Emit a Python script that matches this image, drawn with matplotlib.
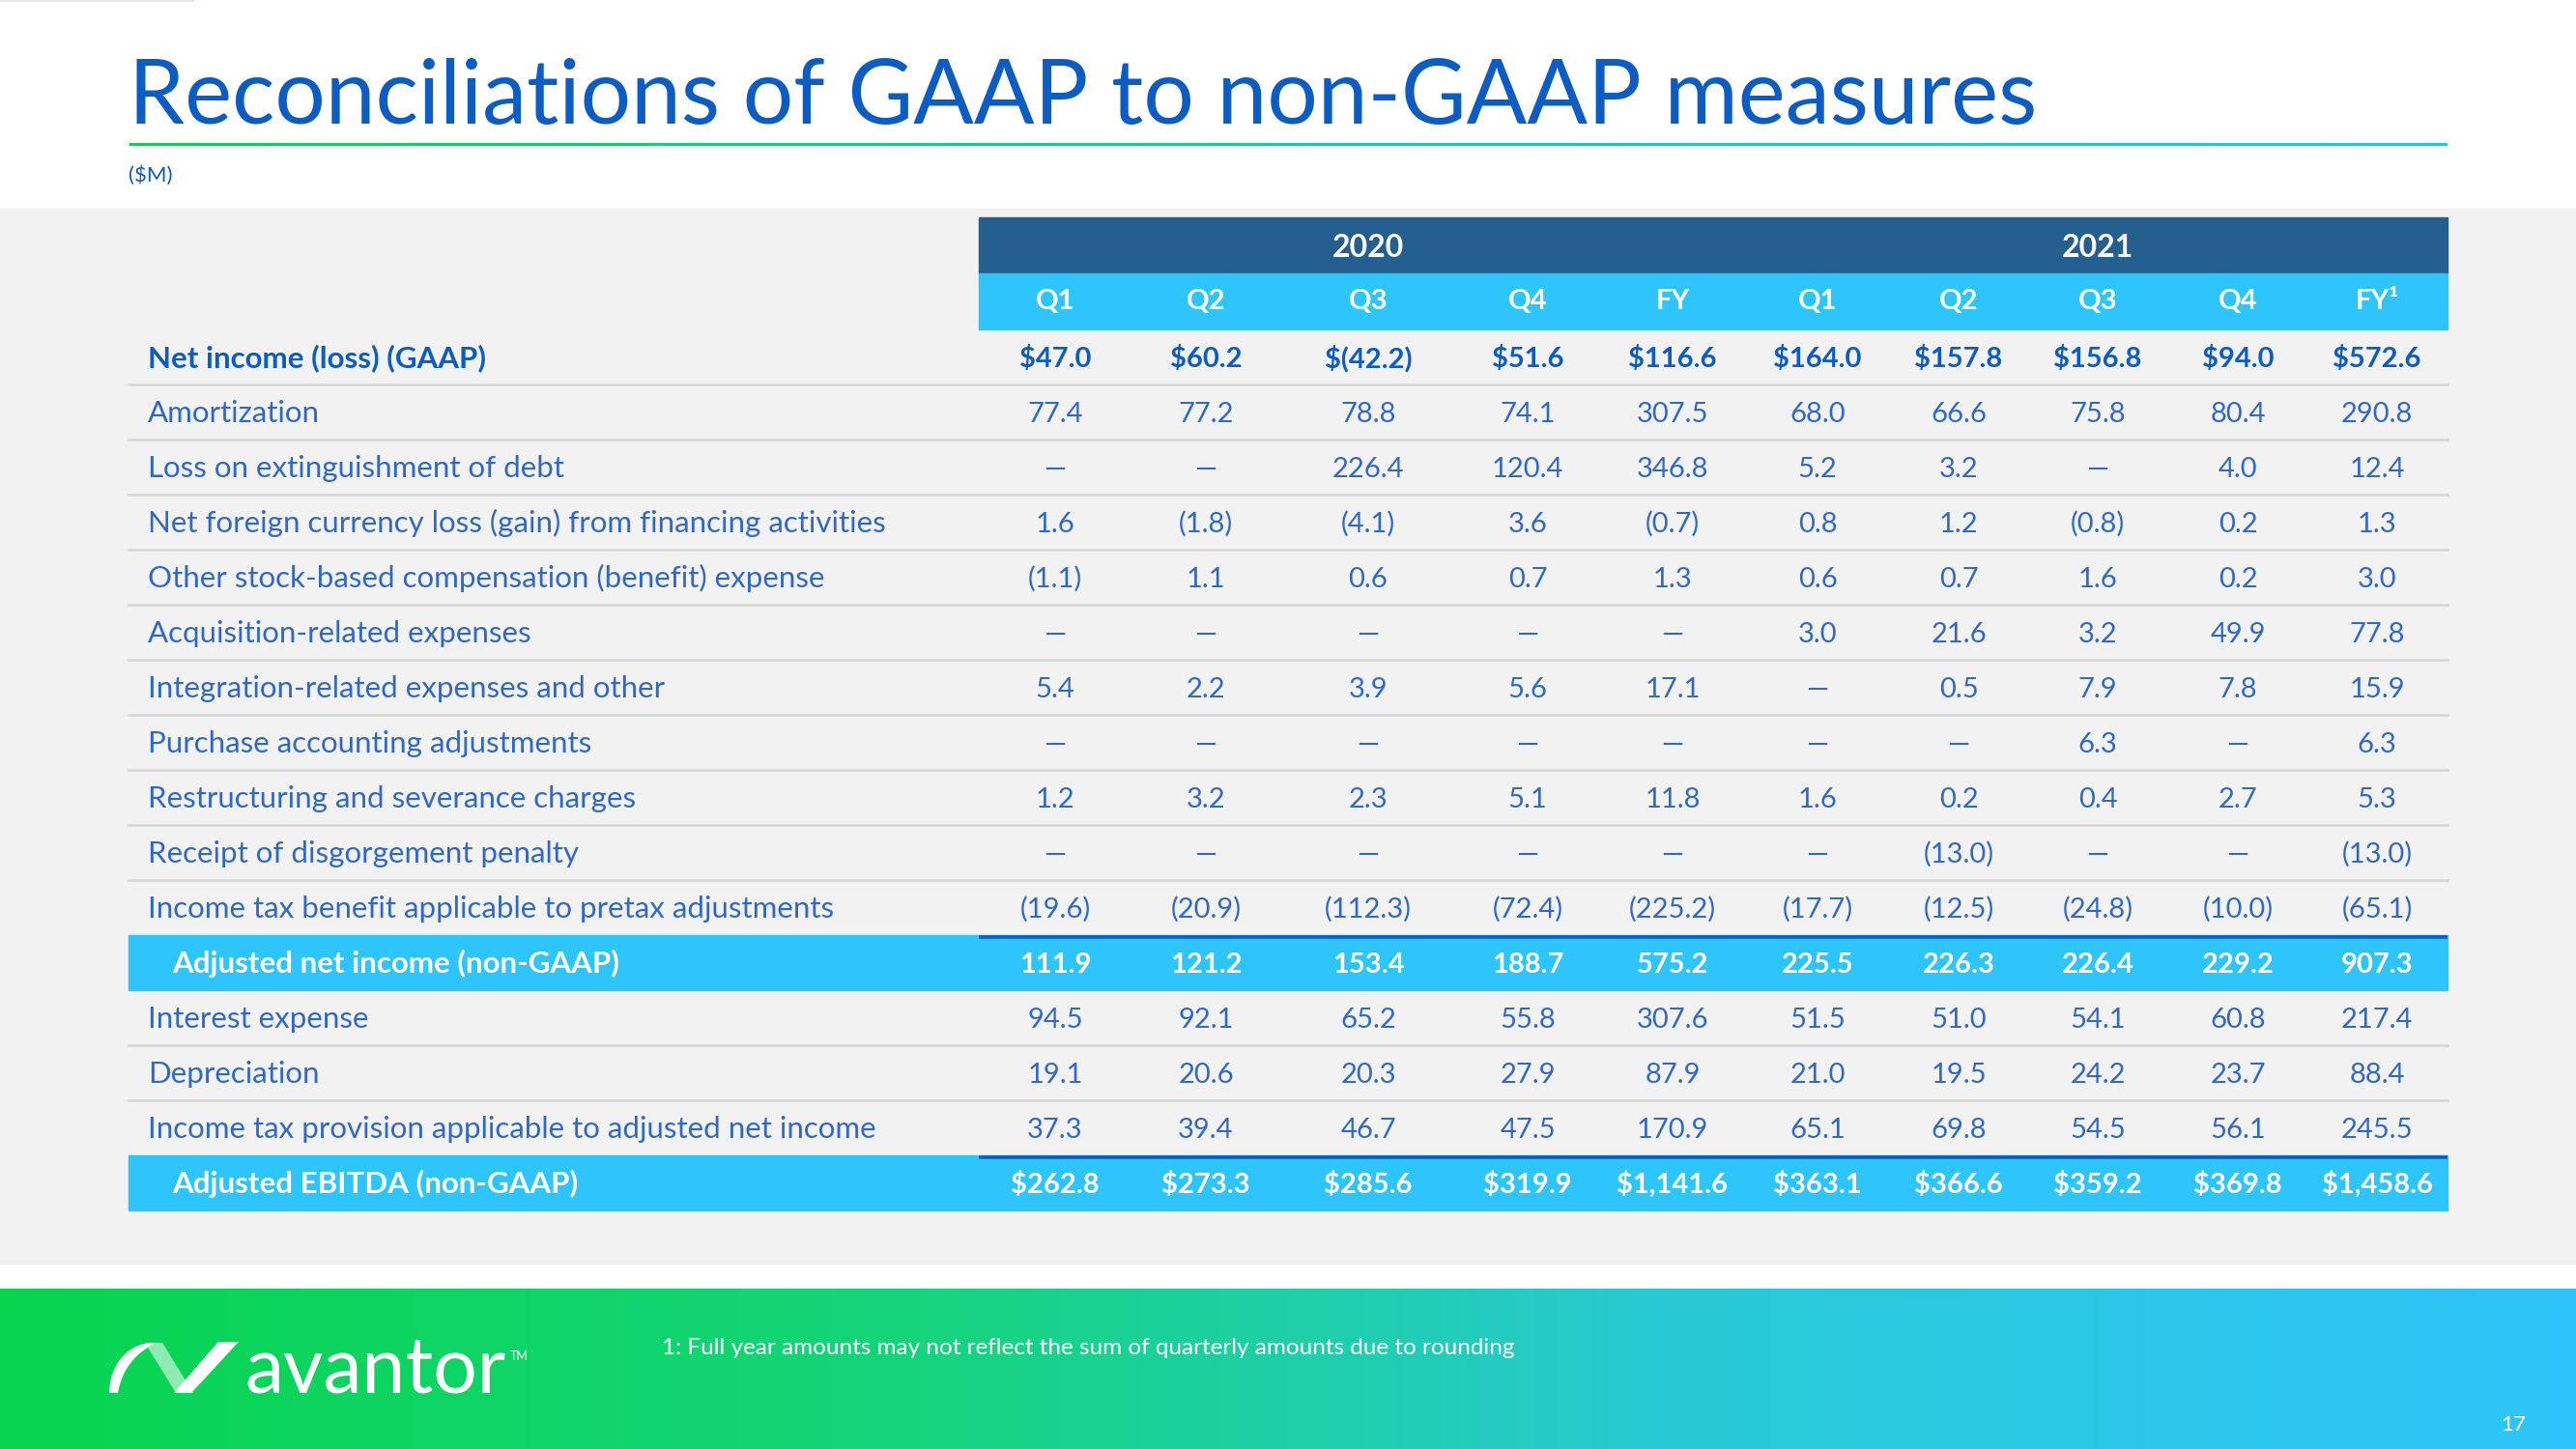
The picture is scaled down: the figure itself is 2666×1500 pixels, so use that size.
import numpy as np
import matplotlib
matplotlib.use("Agg")
import matplotlib.pyplot as plt
from matplotlib.patches import Rectangle, Polygon, PathPatch
from matplotlib.path import Path

# ---- data ------------------------------------------------------------
years = ["2020", "2021"]
columns = ["Q1", "Q2", "Q3", "Q4", "FY", "Q1", "Q2", "Q3", "Q4", "FY\u00b9"]

row_labels = [
    "Net income (loss) (GAAP)",
    "Amortization",
    "Loss on extinguishment of debt",
    "Net foreign currency loss (gain) from financing activities",
    "Other stock-based compensation (benefit) expense",
    "Acquisition-related expenses",
    "Integration-related expenses and other",
    "Purchase accounting adjustments",
    "Restructuring and severance charges",
    "Receipt of disgorgement penalty",
    "Income tax benefit applicable to pretax adjustments",
    "Adjusted net income (non-GAAP)",
    "Interest expense",
    "Depreciation",
    "Income tax provision applicable to adjusted net income",
    "Adjusted EBITDA (non-GAAP)",
]

net_income = [47.0, 60.2, -42.2, 51.6, 116.6, 164.0, 157.8, 156.8, 94.0, 572.6]
amortization = [77.4, 77.2, 78.8, 74.1, 307.5, 68.0, 66.6, 75.8, 80.4, 290.8]
loss_debt = [None, None, 226.4, 120.4, 346.8, 5.2, 3.2, None, 4.0, 12.4]
fx_loss = [1.6, -1.8, -4.1, 3.6, -0.7, 0.8, 1.2, -0.8, 0.2, 1.3]
stock_comp = [-1.1, 1.1, 0.6, 0.7, 1.3, 0.6, 0.7, 1.6, 0.2, 3.0]
acquisition = [None, None, None, None, None, 3.0, 21.6, 3.2, 49.9, 77.8]
integration = [5.4, 2.2, 3.9, 5.6, 17.1, None, 0.5, 7.9, 7.8, 15.9]
purchase_acct = [None, None, None, None, None, None, None, 6.3, None, 6.3]
restructuring = [1.2, 3.2, 2.3, 5.1, 11.8, 1.6, 0.2, 0.4, 2.7, 5.3]
disgorgement = [None, None, None, None, None, None, -13.0, None, None, -13.0]
tax_benefit = [-19.6, -20.9, -112.3, -72.4, -225.2, -17.7, -12.5, -24.8, -10.0, -65.1]
adj_net_income = [111.9, 121.2, 153.4, 188.7, 575.2, 225.5, 226.3, 226.4, 229.2, 907.3]
interest = [94.5, 92.1, 65.2, 55.8, 307.6, 51.5, 51.0, 54.1, 60.8, 217.4]
depreciation = [19.1, 20.6, 20.3, 27.9, 87.9, 21.0, 19.5, 24.2, 23.7, 88.4]
tax_provision = [37.3, 39.4, 46.7, 47.5, 170.9, 65.1, 69.8, 54.5, 56.1, 245.5]
adj_ebitda = [262.8, 273.3, 285.6, 319.9, 1141.6, 363.1, 366.6, 359.2, 369.8, 1458.6]

rows = [net_income, amortization, loss_debt, fx_loss, stock_comp, acquisition,
        integration, purchase_acct, restructuring, disgorgement, tax_benefit,
        adj_net_income, interest, depreciation, tax_provision, adj_ebitda]

dollar_rows = {0, 15}
bold_rows = {0}
highlight_rows = {11, 15}

# ---- style -----------------------------------------------------------
FONT = ["Lato", "DejaVu Sans"]
BLUE = "#0b5cc3"
TEXT_BLUE = "#3068c6"
DARK_BAND = "#245f8f"
CYAN = "#2ec5fc"
GRAY_BG = "#f2f2f2"
SEP = "#d6d6d6"

W, H = 2666, 1500
col_x = [1092, 1248, 1416, 1581, 1731, 1881, 2027, 2171, 2316, 2460]
table_left, table_right, num_left = 133, 2533, 1013
row_top0, row_h = 341, 57
label_fs, num_fs = 22.5, 21


def fmt(v, dollar=False):
    if v is None:
        return "\u2014"
    s = f"{abs(v):,.1f}"
    if v < 0:
        s = f"({s})"
    if dollar:
        s = "$" + s
    return s


fig = plt.figure(figsize=(W / 100, H / 100), dpi=100)
ax = fig.add_axes([0, 0, 1, 1])
ax.set_xlim(0, W)
ax.set_ylim(H, 0)
ax.axis("off")

# backgrounds
ax.add_patch(Rectangle((0, 0), W, H, color="white", zorder=0))
ax.add_patch(Rectangle((0, 216), W, 1308 - 216, color=GRAY_BG, zorder=0))
ax.plot([0, 200], [1, 1], color="#e6e6e6", lw=1.5, zorder=1)

# footer gradient
stops = np.array([0.0, 0.35, 0.65, 1.0])
cols = np.array([[8, 212, 78], [20, 213, 122], [40, 202, 212], [46, 196, 250]]) / 255
xs = np.linspace(0, 1, 600)
grad = np.stack([np.interp(xs, stops, cols[:, i]) for i in range(3)], axis=-1)[None, :, :]
ax.imshow(grad, extent=[0, W, 1500, 1334], aspect="auto", zorder=0.5)

# title line (green -> teal)
xs2 = np.linspace(0, 1, 300)
lgrad = np.stack([np.interp(xs2, [0, 1], [0.12, 0.17]),
                  np.interp(xs2, [0, 1], [0.78, 0.77]),
                  np.interp(xs2, [0, 1], [0.35, 0.85])], axis=-1)[None, :, :]
ax.imshow(lgrad, extent=[134, 2533, 151, 148.5], aspect="auto", zorder=1)
ax.set_xlim(0, W)
ax.set_ylim(H, 0)

# title
ax.text(133, 128, "Reconciliations of GAAP to non-GAAP measures", fontsize=66.7,
        color=BLUE, family=FONT, va="baseline", ha="left")
ax.text(133, 188, "($M)", fontsize=16, color=BLUE, family=FONT, va="baseline", ha="left")

# header bands
ax.add_patch(Rectangle((num_left, 225), table_right - num_left, 58, color=DARK_BAND, zorder=1))
ax.add_patch(Rectangle((num_left, 283), table_right - num_left, 58, color=CYAN, zorder=1))
for yr, cx in zip(years, [col_x[2], col_x[7]]):
    ax.text(cx, 266, yr, fontsize=23, color="white", weight="bold", family=FONT,
            ha="center", va="baseline", zorder=3)
for c, cx in zip(columns, col_x):
    ax.text(cx, 320, c, fontsize=21, color="white", weight="bold", family=FONT,
            ha="center", va="baseline", zorder=3)

# body rows
for k, (label, vals) in enumerate(zip(row_labels, rows)):
    top = row_top0 + k * row_h
    base = top + row_h / 2 + 10.5
    hl = k in highlight_rows
    if hl:
        ax.add_patch(Rectangle((table_left, top), table_right - table_left, row_h,
                               color=CYAN, zorder=1))
        ax.plot([num_left, table_right], [top + 1.5, top + 1.5], color=BLUE, lw=2.6,
                solid_capstyle="butt", zorder=2)
    elif k + 1 not in highlight_rows and k < len(rows) - 1:
        ax.plot([table_left, table_right], [top + row_h, top + row_h], color=SEP,
                lw=1.8, zorder=1)
    if hl:
        color, weight, lx = "white", "bold", 178
    elif k in bold_rows:
        color, weight, lx = BLUE, "bold", 153
    else:
        color, weight, lx = TEXT_BLUE, "normal", 153
    ax.text(lx, base, label, fontsize=label_fs, color=color, weight=weight, family=FONT,
            ha="left", va="baseline", zorder=3)
    for v, cx in zip(vals, col_x):
        ax.text(cx, base, fmt(v, k in dollar_rows), fontsize=num_fs, color=color,
                weight=weight, family=FONT, ha="center", va="baseline", zorder=3)

# footer: logo, footnote, page number
left = Path([(113, 1442), (114, 1405), (140, 1389), (160, 1390),
             (150, 1397), (128, 1408), (122, 1442), (113, 1442)],
            [Path.MOVETO, Path.CURVE4, Path.CURVE4, Path.CURVE4,
             Path.CURVE4, Path.CURVE4, Path.CURVE4, Path.CLOSEPOLY])
ax.add_patch(PathPatch(left, facecolor="white", edgecolor="none", zorder=3))
ax.add_patch(Polygon([(150, 1390), (168, 1390), (200, 1442), (182, 1442)],
                     closed=True, facecolor="white", alpha=0.55, edgecolor="none", zorder=3))
ax.add_patch(Polygon([(180, 1442), (198, 1442), (247, 1389), (226, 1389)],
                     closed=True, facecolor="white", edgecolor="none", zorder=3))
ax.text(253, 1442, "avantor", fontsize=58, color="white", family=FONT,
        va="baseline", ha="left", zorder=3)
ax.text(528, 1408, "TM", fontsize=9, color="white", family=FONT,
        va="baseline", ha="left", zorder=3)
ax.text(685, 1402, "1: Full year amounts may not reflect the sum of quarterly amounts due to rounding",
        fontsize=17.5, color="white", family=FONT, va="baseline", ha="left", zorder=3)
ax.text(2601, 1481, "17", fontsize=16, color="white", family=FONT,
        va="baseline", ha="center", zorder=3)

fig.savefig("out.png", dpi=100)
